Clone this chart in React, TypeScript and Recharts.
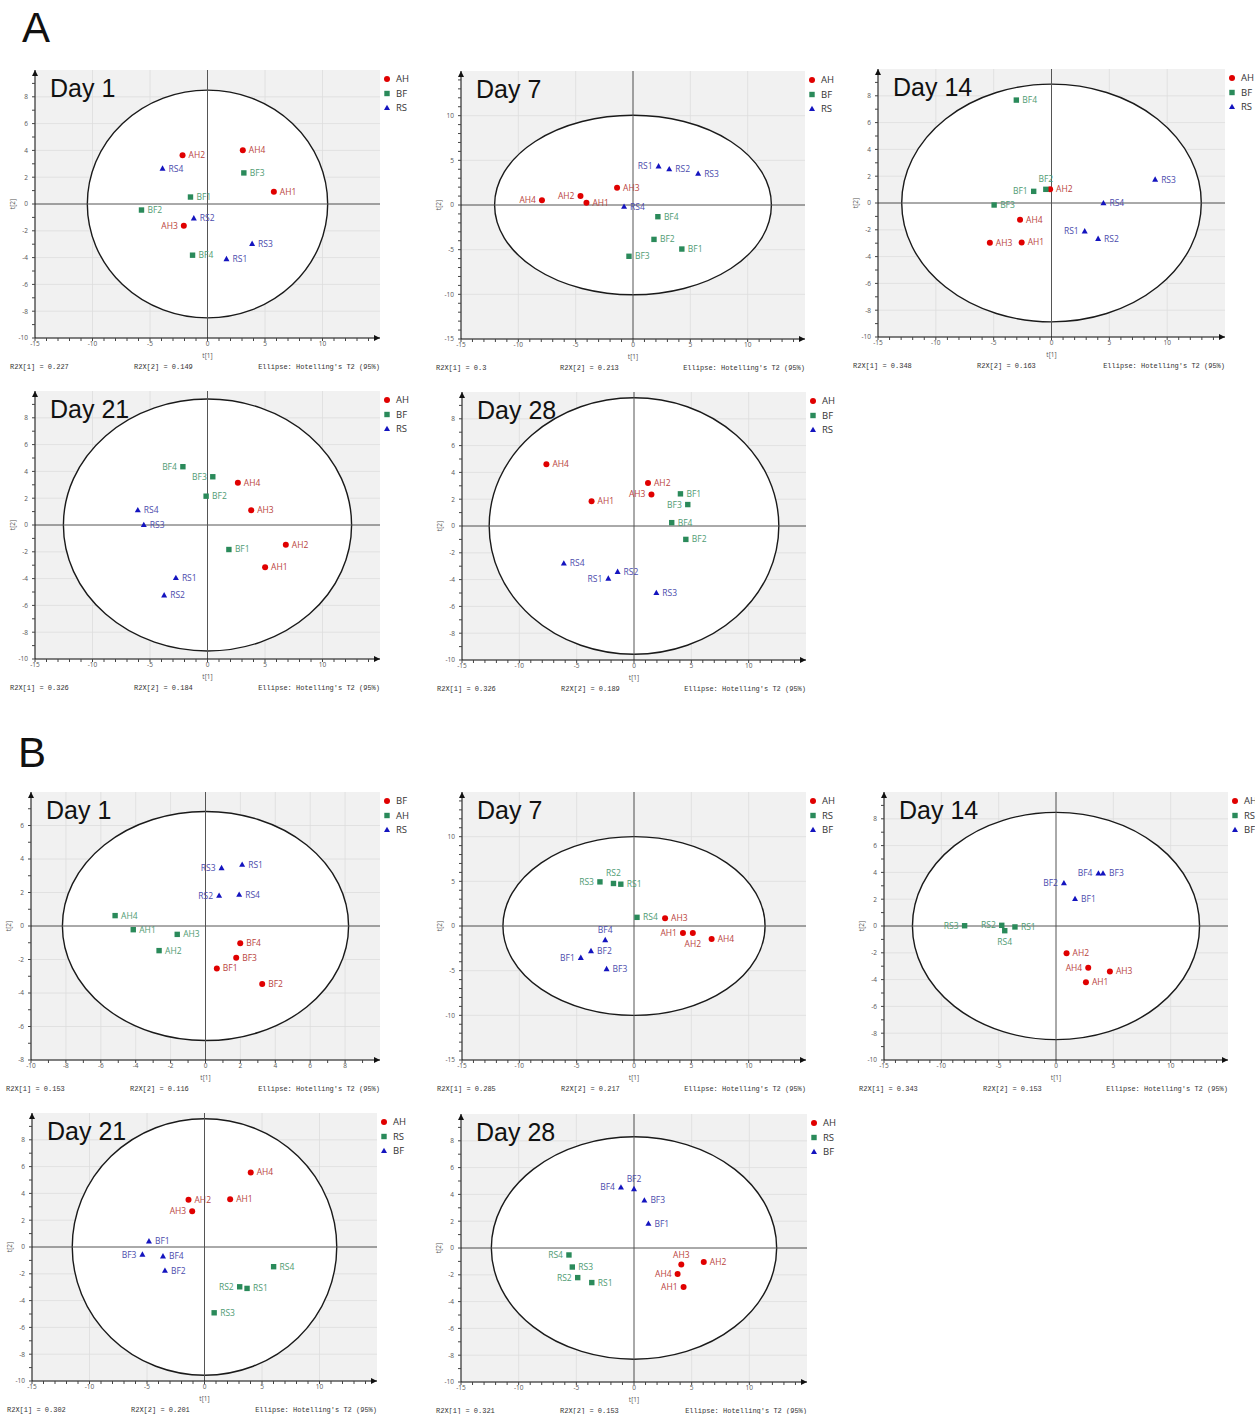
import React from 'react';
import {
  ScatterChart,
  Scatter,
  XAxis,
  YAxis,
  CartesianGrid,
  ReferenceArea,
  ReferenceLine,
} from 'recharts';

type Pt = { name: string; x: number; y: number };
type Side = 'left' | 'right' | 'top' | 'bottom';

// tick labels
const ticksPm15 = [-15, -10, -5, 0, 5, 10];
const ticksPm10 = [-10, -8, -6, -4, -2, 0, 2, 4, 6, 8];
const ticksPm8 = [-8, -6, -4, -2, 0, 2, 4, 6];

// legend order (red circle, green square, blue triangle)
const groupsA = ['AH', 'BF', 'RS'];
const groupsB1 = ['BF', 'AH', 'RS'];
const groupsB = ['AH', 'RS', 'BF'];

// ---- A / Day 1
const a1AH: Pt[] = [
  { name: 'AH1', x: 5.77, y: 0.92 },
  { name: 'AH2', x: -2.17, y: 3.64 },
  { name: 'AH3', x: -2.06, y: -1.62 },
  { name: 'AH4', x: 3.07, y: 4.01 },
];
const a1BF: Pt[] = [
  { name: 'BF1', x: -1.48, y: 0.52 },
  { name: 'BF2', x: -5.74, y: -0.45 },
  { name: 'BF3', x: 3.16, y: 2.32 },
  { name: 'BF4', x: -1.3, y: -3.82 },
];
const a1RS: Pt[] = [
  { name: 'RS1', x: 1.65, y: -4.11 },
  { name: 'RS2', x: -1.19, y: -1.07 },
  { name: 'RS3', x: 3.88, y: -2.97 },
  { name: 'RS4', x: -3.91, y: 2.64 },
];
const a1Ellipse = [10.45, 8.5];
const a1R2X = ['0.227', '0.149'];
const a1Sides: Record<string, Side> = { AH3: 'left' };

// ---- A / Day 7
const a7AH: Pt[] = [
  { name: 'AH1', x: -4.06, y: 0.26 },
  { name: 'AH2', x: -4.58, y: 1.0 },
  { name: 'AH3', x: -1.39, y: 1.94 },
  { name: 'AH4', x: -7.94, y: 0.52 },
];
const a7BF: Pt[] = [
  { name: 'BF1', x: 4.26, y: -4.93 },
  { name: 'BF2', x: 1.83, y: -3.85 },
  { name: 'BF3', x: -0.35, y: -5.74 },
  { name: 'BF4', x: 2.17, y: -1.31 },
];
const a7RS: Pt[] = [
  { name: 'RS1', x: 2.23, y: 4.33 },
  { name: 'RS2', x: 3.16, y: 4.0 },
  { name: 'RS3', x: 5.68, y: 3.5 },
  { name: 'RS4', x: -0.78, y: -0.19 },
];
const a7Ellipse = [12.07, 10.05];
const a7R2X = ['0.3', '0.213'];
const a7Sides: Record<string, Side> = { AH2: 'left', AH4: 'left', RS1: 'left' };

// ---- A / Day 14
const a14AH: Pt[] = [
  { name: 'AH1', x: -2.58, y: -2.94 },
  { name: 'AH2', x: -0.12, y: 1.02 },
  { name: 'AH3', x: -5.33, y: -2.97 },
  { name: 'AH4', x: -2.72, y: -1.25 },
];
const a14BF: Pt[] = [
  { name: 'BF1', x: -1.54, y: 0.87 },
  { name: 'BF2', x: -0.49, y: 1.02 },
  { name: 'BF3', x: -4.96, y: -0.15 },
  { name: 'BF4', x: -3.04, y: 7.68 },
];
const a14RS: Pt[] = [
  { name: 'RS1', x: 2.87, y: -2.12 },
  { name: 'RS2', x: 4.03, y: -2.67 },
  { name: 'RS3', x: 8.96, y: 1.75 },
  { name: 'RS4', x: 4.49, y: -0.02 },
];
const a14Ellipse = [12.95, 8.87];
const a14R2X = ['0.348', '0.163'];
const a14Sides: Record<string, Side> = { BF1: 'left', BF2: 'top', RS1: 'left' };

// ---- A / Day 21
const a21AH: Pt[] = [
  { name: 'AH1', x: 5.01, y: -3.15 },
  { name: 'AH2', x: 6.81, y: -1.48 },
  { name: 'AH3', x: 3.8, y: 1.1 },
  { name: 'AH4', x: 2.64, y: 3.15 },
];
const a21BF: Pt[] = [
  { name: 'BF1', x: 1.86, y: -1.83 },
  { name: 'BF2', x: -0.12, y: 2.15 },
  { name: 'BF3', x: 0.46, y: 3.6 },
  { name: 'BF4', x: -2.14, y: 4.35 },
];
const a21RS: Pt[] = [
  { name: 'RS1', x: -2.75, y: -3.95 },
  { name: 'RS2', x: -3.77, y: -5.25 },
  { name: 'RS3', x: -5.54, y: 0.0 },
  { name: 'RS4', x: -6.06, y: 1.1 },
];
const a21Ellipse = [12.53, 9.4];
const a21R2X = ['0.326', '0.184'];
const a21Sides: Record<string, Side> = { BF3: 'left', BF4: 'left' };

// ---- A / Day 28
const a28AH: Pt[] = [
  { name: 'AH1', x: -3.7, y: 1.85 },
  { name: 'AH2', x: 1.22, y: 3.2 },
  { name: 'AH3', x: 1.52, y: 2.35 },
  { name: 'AH4', x: -7.64, y: 4.6 },
];
const a28BF: Pt[] = [
  { name: 'BF1', x: 4.05, y: 2.4 },
  { name: 'BF2', x: 4.52, y: -1.0 },
  { name: 'BF3', x: 4.69, y: 1.6 },
  { name: 'BF4', x: 3.29, y: 0.25 },
];
const a28RS: Pt[] = [
  { name: 'RS1', x: -2.24, y: -3.92 },
  { name: 'RS2', x: -1.43, y: -3.42 },
  { name: 'RS3', x: 1.95, y: -5.0 },
  { name: 'RS4', x: -6.12, y: -2.8 },
];
const a28Ellipse = [12.63, 9.57];
const a28R2X = ['0.326', '0.189'];
const a28Sides: Record<string, Side> = { AH3: 'left', BF3: 'left', RS1: 'left' };

// ---- B / Day 1
const b1BF: Pt[] = [
  { name: 'BF1', x: 0.65, y: -2.53 },
  { name: 'BF2', x: 3.25, y: -3.46 },
  { name: 'BF3', x: 1.76, y: -1.89 },
  { name: 'BF4', x: 1.99, y: -1.03 },
];
const b1AH: Pt[] = [
  { name: 'AH1', x: -4.14, y: -0.22 },
  { name: 'AH2', x: -2.66, y: -1.47 },
  { name: 'AH3', x: -1.62, y: -0.5 },
  { name: 'AH4', x: -5.18, y: 0.62 },
];
const b1RS: Pt[] = [
  { name: 'RS1', x: 2.1, y: 3.66 },
  { name: 'RS2', x: 0.78, y: 1.81 },
  { name: 'RS3', x: 0.92, y: 3.46 },
  { name: 'RS4', x: 1.93, y: 1.87 },
];
const b1Ellipse = [8.2, 6.84];
const b1R2X = ['0.153', '0.116'];
const b1Sides: Record<string, Side> = { RS2: 'left', RS3: 'left' };

// ---- B / Day 7
const b7AH: Pt[] = [
  { name: 'AH1', x: 4.27, y: -0.79 },
  { name: 'AH2', x: 5.13, y: -0.79 },
  { name: 'AH3', x: 2.71, y: 0.86 },
  { name: 'AH4', x: 6.77, y: -1.46 },
];
const b7RS: Pt[] = [
  { name: 'RS1', x: -1.15, y: 4.68 },
  { name: 'RS2', x: -1.79, y: 4.76 },
  { name: 'RS3', x: -2.97, y: 4.94 },
  { name: 'RS4', x: 0.26, y: 0.97 },
];
const b7BF: Pt[] = [
  { name: 'BF1', x: -4.64, y: -3.56 },
  { name: 'BF2', x: -3.75, y: -2.81 },
  { name: 'BF3', x: -2.39, y: -4.83 },
  { name: 'BF4', x: -2.51, y: -1.57 },
];
const b7Ellipse = [11.43, 10.0];
const b7R2X = ['0.285', '0.217'];
const b7Sides: Record<string, Side> = { AH1: 'left', AH2: 'bottom', RS2: 'top', RS3: 'left', BF1: 'left', BF4: 'top' };

// ---- B / Day 14
const b14AH: Pt[] = [
  { name: 'AH1', x: 2.61, y: -4.19 },
  { name: 'AH2', x: 0.92, y: -2.04 },
  { name: 'AH3', x: 4.7, y: -3.39 },
  { name: 'AH4', x: 2.81, y: -3.12 },
];
const b14RS: Pt[] = [
  { name: 'RS1', x: -3.58, y: -0.07 },
  { name: 'RS2', x: -4.73, y: 0.05 },
  { name: 'RS3', x: -7.97, y: 0.02 },
  { name: 'RS4', x: -4.47, y: -0.35 },
];
const b14BF: Pt[] = [
  { name: 'BF1', x: 1.66, y: 2.02 },
  { name: 'BF2', x: 0.69, y: 3.19 },
  { name: 'BF3', x: 4.1, y: 3.92 },
  { name: 'BF4', x: 3.7, y: 3.92 },
];
const b14Ellipse = [12.52, 8.48];
const b14R2X = ['0.343', '0.153'];
const b14Sides: Record<string, Side> = { AH4: 'left', RS2: 'left', RS3: 'left', RS4: 'bottom', BF2: 'left', BF4: 'left' };

// ---- B / Day 21
const b21AH: Pt[] = [
  { name: 'AH1', x: 2.23, y: 3.57 },
  { name: 'AH2', x: -1.39, y: 3.52 },
  { name: 'AH3', x: -1.07, y: 2.67 },
  { name: 'AH4', x: 4.02, y: 5.56 },
];
const b21RS: Pt[] = [
  { name: 'RS1', x: 3.7, y: -3.09 },
  { name: 'RS2', x: 3.06, y: -2.97 },
  { name: 'RS3', x: 0.84, y: -4.91 },
  { name: 'RS4', x: 6.01, y: -1.47 },
];
const b21BF: Pt[] = [
  { name: 'BF1', x: -4.83, y: 0.42 },
  { name: 'BF2', x: -3.44, y: -1.77 },
  { name: 'BF3', x: -5.4, y: -0.57 },
  { name: 'BF4', x: -3.61, y: -0.7 },
];
const b21Ellipse = [11.5, 9.57];
const b21R2X = ['0.302', '0.201'];
const b21Sides: Record<string, Side> = { AH3: 'left', RS2: 'left', BF3: 'left' };

// ---- B / Day 28
const b28AH: Pt[] = [
  { name: 'AH1', x: 4.3, y: -2.91 },
  { name: 'AH2', x: 6.05, y: -1.04 },
  { name: 'AH3', x: 4.1, y: -1.24 },
  { name: 'AH4', x: 3.78, y: -1.94 },
];
const b28RS: Pt[] = [
  { name: 'RS1', x: -3.66, y: -2.58 },
  { name: 'RS2', x: -4.88, y: -2.21 },
  { name: 'RS3', x: -5.35, y: -1.42 },
  { name: 'RS4', x: -5.64, y: -0.52 },
];
const b28BF: Pt[] = [
  { name: 'BF1', x: 1.25, y: 1.81 },
  { name: 'BF2', x: 0.0, y: 4.4 },
  { name: 'BF3', x: 0.9, y: 3.55 },
  { name: 'BF4', x: -1.13, y: 4.52 },
];
const b28Ellipse = [12.37, 8.3];
const b28R2X = ['0.321', '0.153'];
const b28Sides: Record<string, Side> = { AH1: 'left', AH3: 'top', AH4: 'left', RS2: 'left', RS4: 'left', BF2: 'top', BF4: 'left' };

const MARK = ['#e00000', '#2a8a5a', '#1414bf'];
const LABEL = ['#b9433d', '#4f9b73', '#4b4bac'];
const FONT = '"Open Sans", "Noto Sans", sans-serif';
const MONO = '"Liberation Mono", "DejaVu Sans Mono", monospace';
const PH = 268;

type PanelDef = {
  id: string;
  title: string;
  left: number;
  top: number;
  w: number;
  xDomain: number[];
  xTicks: number[];
  yDomain: number[];
  yTicks: number[];
  groups: string[];
  series: Pt[][];
  ellipse: number[];
  r2x: string[];
  sides: Record<string, Side>;
};

const panels: PanelDef[] = [
  { id: 'a1', title: 'Day 1', left: 35, top: 70, w: 345, xDomain: [-15, 15], xTicks: ticksPm15, yDomain: [-10, 10], yTicks: ticksPm10, groups: groupsA, series: [a1AH, a1BF, a1RS], ellipse: a1Ellipse, r2x: a1R2X, sides: a1Sides },
  { id: 'a7', title: 'Day 7', left: 461, top: 71, w: 344, xDomain: [-15, 15], xTicks: ticksPm15, yDomain: [-15, 15], yTicks: ticksPm15, groups: groupsA, series: [a7AH, a7BF, a7RS], ellipse: a7Ellipse, r2x: a7R2X, sides: a7Sides },
  { id: 'a14', title: 'Day 14', left: 878, top: 69, w: 347, xDomain: [-15, 15], xTicks: ticksPm15, yDomain: [-10, 10], yTicks: ticksPm10, groups: groupsA, series: [a14AH, a14BF, a14RS], ellipse: a14Ellipse, r2x: a14R2X, sides: a14Sides },
  { id: 'a21', title: 'Day 21', left: 35, top: 391, w: 345, xDomain: [-15, 15], xTicks: ticksPm15, yDomain: [-10, 10], yTicks: ticksPm10, groups: groupsA, series: [a21AH, a21BF, a21RS], ellipse: a21Ellipse, r2x: a21R2X, sides: a21Sides },
  { id: 'a28', title: 'Day 28', left: 462, top: 392, w: 344, xDomain: [-15, 15], xTicks: ticksPm15, yDomain: [-10, 10], yTicks: ticksPm10, groups: groupsA, series: [a28AH, a28BF, a28RS], ellipse: a28Ellipse, r2x: a28R2X, sides: a28Sides },
  { id: 'b1', title: 'Day 1', left: 31, top: 792, w: 349, xDomain: [-10, 10], xTicks: ticksPm10, yDomain: [-8, 8], yTicks: ticksPm8, groups: groupsB1, series: [b1BF, b1AH, b1RS], ellipse: b1Ellipse, r2x: b1R2X, sides: b1Sides },
  { id: 'b7', title: 'Day 7', left: 462, top: 792, w: 344, xDomain: [-15, 15], xTicks: ticksPm15, yDomain: [-15, 15], yTicks: ticksPm15, groups: groupsB, series: [b7AH, b7RS, b7BF], ellipse: b7Ellipse, r2x: b7R2X, sides: b7Sides },
  { id: 'b14', title: 'Day 14', left: 884, top: 792, w: 344, xDomain: [-15, 15], xTicks: ticksPm15, yDomain: [-10, 10], yTicks: ticksPm10, groups: groupsB, series: [b14AH, b14RS, b14BF], ellipse: b14Ellipse, r2x: b14R2X, sides: b14Sides },
  { id: 'b21', title: 'Day 21', left: 32, top: 1113, w: 345, xDomain: [-15, 15], xTicks: ticksPm15, yDomain: [-10, 10], yTicks: ticksPm10, groups: groupsB, series: [b21AH, b21RS, b21BF], ellipse: b21Ellipse, r2x: b21R2X, sides: b21Sides },
  { id: 'b28', title: 'Day 28', left: 461, top: 1114, w: 346, xDomain: [-15, 15], xTicks: ticksPm15, yDomain: [-10, 10], yTicks: ticksPm10, groups: groupsB, series: [b28AH, b28RS, b28BF], ellipse: b28Ellipse, r2x: b28R2X, sides: b28Sides },
];

// unit tick marks across a domain; only the major ones get a label
const unitTicks = (domain: number[]) => {
  const out: number[] = [];
  for (let v = domain[0]; v < domain[1]; v += 1) out.push(v);
  return out;
};
const majorOnly = (major: number[]) => (v: number) => (major.includes(v) ? String(v) : '');

const drawMarker = (i: number, cx: number, cy: number, fill: string) => {
  if (i === 0) return <circle cx={cx} cy={cy} r={3} fill={fill} />;
  if (i === 1) return <rect x={cx - 2.7} y={cy - 2.7} width={5.4} height={5.4} fill={fill} />;
  return <polygon points={`${cx},${cy - 3.3} ${cx + 3},${cy + 2.1} ${cx - 3},${cy + 2.1}`} fill={fill} />;
};

const makeShape = (i: number, sides: Record<string, Side>) => (props: any) => {
  const { cx, cy, payload } = props;
  const side = sides[payload.name] || 'right';
  let tx = cx + 6;
  let ty = cy;
  let anchor: 'start' | 'end' | 'middle' = 'start';
  if (side === 'left') { tx = cx - 6; anchor = 'end'; }
  if (side === 'top') { tx = cx; ty = cy - 10; anchor = 'middle'; }
  if (side === 'bottom') { tx = cx; ty = cy + 11; anchor = 'middle'; }
  return (
    <g>
      {drawMarker(i, cx, cy, MARK[i])}
      <text x={tx} y={ty} dy="0.35em" textAnchor={anchor} fontSize={8.5} fill={LABEL[i]} fontFamily={FONT}>
        {payload.name}
      </text>
    </g>
  );
};

const ellipseShape = (props: any) => {
  const { x, y, width, height } = props;
  return (
    <ellipse
      cx={x + width / 2}
      cy={y + height / 2}
      rx={width / 2}
      ry={height / 2}
      fill="#ffffff"
      stroke="#1a1a1a"
      strokeWidth={1.4}
    />
  );
};

const Panel = ({ p }: { p: PanelDef }) => {
  const cw = 35 + p.w + 40;
  const ch = 5 + PH + 20 + 27;
  const axisBottom = 5 + PH;
  const tickStyle = { fontSize: 6.5, fill: '#555', fontFamily: FONT };
  return (
    <div style={{ position: 'absolute', left: p.left - 35, top: p.top - 5, width: cw + 30, height: ch }}>
      <ScatterChart width={cw} height={ch} margin={{ top: 5, right: 40, bottom: 27, left: 15 }}>
        <CartesianGrid
          fill="#f1f1f1"
          stroke="#dddddd"
          strokeWidth={0.8}
          verticalValues={p.xTicks}
          horizontalValues={p.yTicks}
        />
        <ReferenceArea
          x1={-p.ellipse[0]}
          x2={p.ellipse[0]}
          y1={-p.ellipse[1]}
          y2={p.ellipse[1]}
          shape={ellipseShape}
          ifOverflow="visible"
        />
        <ReferenceLine x={0} stroke="#555" strokeWidth={1} />
        <ReferenceLine y={0} stroke="#555" strokeWidth={1} />
        <XAxis
          type="number"
          dataKey="x"
          domain={p.xDomain}
          ticks={unitTicks(p.xDomain)}
          tickFormatter={majorOnly(p.xTicks)}
          interval={0}
          height={20}
          tickSize={3}
          tickMargin={0}
          tick={tickStyle}
          tickLine={{ stroke: '#444' }}
          axisLine={{ stroke: '#111', markerEnd: 'url(#axisArrow)' }}
          allowDataOverflow
        />
        <YAxis
          type="number"
          dataKey="y"
          domain={p.yDomain}
          ticks={unitTicks(p.yDomain)}
          tickFormatter={majorOnly(p.yTicks)}
          interval={0}
          width={20}
          tickSize={3}
          tickMargin={4}
          tick={tickStyle}
          tickLine={{ stroke: '#444' }}
          axisLine={{ stroke: '#111', markerStart: 'url(#axisArrow)' }}
          allowDataOverflow
        />
        {p.series.map((data, i) => (
          <Scatter
            key={p.groups[i]}
            name={p.groups[i]}
            data={data}
            fill={MARK[i]}
            shape={makeShape(i, p.sides)}
            isAnimationActive={false}
          />
        ))}
      </ScatterChart>
      <svg
        width={cw + 30}
        height={ch}
        style={{ position: 'absolute', left: 0, top: 0, pointerEvents: 'none', overflow: 'visible' }}
      >
        <text x={50} y={32} fontSize={25} fill="#111" fontFamily='"Liberation Sans", Arial, sans-serif'>
          {p.title}
        </text>
        {p.groups.map((g, i) => (
          <g key={g}>
            {drawMarker(i, 35 + p.w + 7, 14 + 14.5 * i, MARK[i])}
            <text x={35 + p.w + 16} y={14 + 14.5 * i} dy="0.35em" fontSize={9.5} fill="#333" fontFamily={FONT}>
              {g}
            </text>
          </g>
        ))}
        <text x={35 + p.w / 2} y={axisBottom + 19.5} textAnchor="middle" fontSize={6.5} fill="#555" fontFamily={FONT}>
          t[1]
        </text>
        <text
          x={13}
          y={5 + PH / 2}
          textAnchor="middle"
          dy="0.35em"
          fontSize={6.5}
          fill="#555"
          fontFamily={FONT}
          transform={`rotate(-90 13 ${5 + PH / 2})`}
        >
          t[2]
        </text>
        <text x={10} y={axisBottom + 30.5} fontSize={7} fill="#333" fontFamily={MONO}>
          {`R2X[1] = ${p.r2x[0]}`}
        </text>
        <text x={134} y={axisBottom + 30.5} fontSize={7} fill="#333" fontFamily={MONO}>
          {`R2X[2] = ${p.r2x[1]}`}
        </text>
        <text x={35 + p.w} y={axisBottom + 30.5} textAnchor="end" fontSize={7} fill="#333" fontFamily={MONO}>
          Ellipse: Hotelling's T2 (95%)
        </text>
      </svg>
    </div>
  );
};

export default function App() {
  return (
    <div style={{ position: 'relative', width: 1255, height: 1414, overflow: 'hidden', background: '#fff' }}>
      <style>{'body{margin:0}'}</style>
      <svg width={0} height={0} style={{ position: 'absolute' }}>
        <defs>
          <marker
            id="axisArrow"
            viewBox="0 0 10 10"
            refX={10}
            refY={5}
            markerWidth={8}
            markerHeight={6}
            markerUnits="userSpaceOnUse"
            orient="auto-start-reverse"
          >
            <path d="M0,0 L10,5 L0,10 z" fill="#111" />
          </marker>
        </defs>
      </svg>
      <div style={{ position: 'absolute', left: 22, top: 7, fontSize: 42, lineHeight: 1, fontFamily: '"Liberation Sans", Arial, sans-serif', color: '#111' }}>
        A
      </div>
      <div style={{ position: 'absolute', left: 18, top: 732, fontSize: 42, lineHeight: 1, fontFamily: '"Liberation Sans", Arial, sans-serif', color: '#111' }}>
        B
      </div>
      {panels.map((p) => (
        <Panel key={p.id} p={p} />
      ))}
    </div>
  );
}
